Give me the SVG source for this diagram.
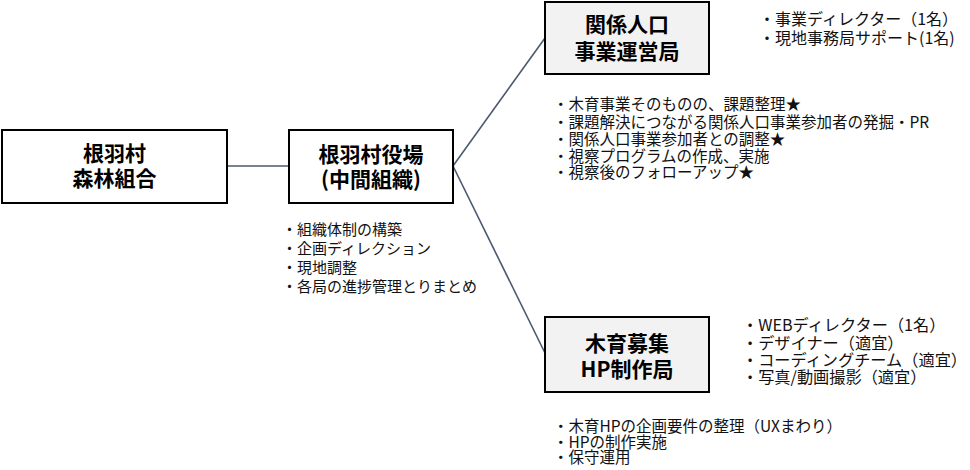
<svg xmlns="http://www.w3.org/2000/svg" width="970" height="470" viewBox="0 0 970 470">
<style>
.box{stroke:#000;stroke-width:2}
.w{fill:#fff}
.g{fill:#f2f2f2}
.lbl{font-family:"Noto Sans CJK JP","Noto Sans",sans-serif;font-weight:bold;font-size:21px;fill:#000;text-anchor:middle}
.lst{font-family:"Noto Sans CJK JP","Noto Sans",sans-serif;font-size:15px;fill:#111}
.lst155{font-size:15.5px}
.lst16{font-size:16px}
.lst162{font-size:16.2px}
.con{stroke:#4a5870;stroke-width:1.6;fill:none}
</style>
<rect width="970" height="470" fill="#fff"/>
<g id="connectors">
<line class="con" x1="227" y1="166" x2="289" y2="166"/>
<line class="con" x1="453" y1="166" x2="545" y2="38"/>
<line class="con" x1="453" y1="166" x2="545" y2="353"/>
</g>
<g id="node-shinrin">
<rect class="box w" x="2" y="130" width="225" height="73"/>
<text class="lbl" x="114.500" y="161">根羽村</text>
<text class="lbl" x="114.500" y="186">森林組合</text>
</g>
<g id="node-yakuba">
<rect class="box w" x="289" y="130" width="164" height="73"/>
<text class="lbl" x="371" y="162">根羽村役場</text>
<text class="lbl" x="371" y="187">(中間組織)</text>
</g>
<g id="node-kankei">
<rect class="box g" x="545" y="2" width="164" height="72"/>
<text class="lbl" x="627" y="32">関係人口</text>
<text class="lbl" x="627" y="59">事業運営局</text>
</g>
<g id="node-mokuiku">
<rect class="box g" x="545" y="317" width="164" height="75"/>
<text class="lbl" x="627" y="351">木育募集</text>
<text class="lbl" x="627" y="377">HP制作局</text>
</g>
<g id="list-yakuba" class="lst">
<text x="282" y="235">・組織体制の構築</text>
<text x="282" y="254">・企画ディレクション</text>
<text x="282" y="273">・現地調整</text>
<text x="282" y="292">・各局の進捗管理とりまとめ</text>
</g>
<g id="list-kankei-staff" class="lst lst16">
<text x="759" y="25">・事業ディレクター（1名）</text>
<text x="759" y="44">・現地事務局サポート(1名)</text>
</g>
<g id="list-kankei-tasks" class="lst lst155">
<text x="553" y="110">・木育事業そのものの、課題整理★</text>
<text x="553" y="128">・課題解決につながる関係人口事業参加者の発掘・PR</text>
<text x="553" y="145">・関係人口事業参加者との調整★</text>
<text x="553" y="162">・視察プログラムの作成、実施</text>
<text x="553" y="178">・視察後のフォローアップ★</text>
</g>
<g id="list-mokuiku-staff" class="lst lst162">
<text x="742" y="331">・WEBディレクター（1名）</text>
<text x="742" y="349">・デザイナー（適宜）</text>
<text x="742" y="366">・コーディングチーム（適宜）</text>
<text x="742" y="383">・写真/動画撮影（適宜）</text>
</g>
<g id="list-mokuiku-tasks" class="lst lst155">
<text x="553" y="432">・木育HPの企画要件の整理（UXまわり）</text>
<text x="553" y="448">・HPの制作実施</text>
<text x="553" y="463">・保守運用</text>
</g>
</svg>
